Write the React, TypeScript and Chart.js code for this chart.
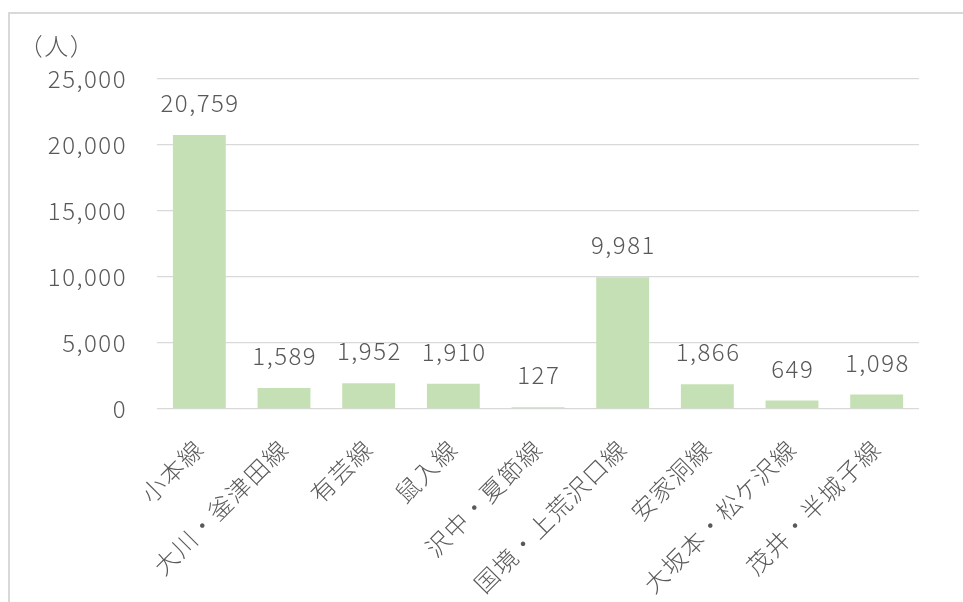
import React, { useEffect, useRef } from 'react';
import { Chart, registerables } from 'chart.js';

Chart.register(...registerables);

const categories = [
  '小本線',
  '大川・釜津田線',
  '有芸線',
  '鼠入線',
  '沢中・夏節線',
  '国境・上荒沢口線',
  '安家洞線',
  '大坂本・松ケ沢線',
  '茂井・半城子線',
];
const passengers = [20759, 1589, 1952, 1910, 127, 9981, 1866, 649, 1098];
const yMin = 0;
const yMax = 25000;
const yStep = 5000;
const yUnit = '（人）';

const FONT = '"Noto Sans CJK JP", "Noto Sans", sans-serif';
const WEIGHT = '300';
const SPACING = '1.5px';
const TEXT = '#595959';
const GRID = '#d9d9d9';
const BAR = '#c5e0b4';

const fmt = (v: number) => v.toLocaleString('en-US');

const framePlugin = {
  id: 'frame',
  beforeDraw(chart: any) {
    const ctx = chart.ctx;
    ctx.save();
    ctx.fillStyle = '#ffffff';
    ctx.fillRect(0, 0, chart.width, chart.height);
    ctx.fillStyle = GRID;
    ctx.fillRect(8, 12, chart.width - 8, 2);
    ctx.fillRect(8, 12, 2, chart.height - 12);
    ctx.restore();
    (ctx as any).letterSpacing = SPACING;
  },
};

const labelsPlugin = {
  id: 'customLabels',
  afterDatasetsDraw(chart: any) {
    const ctx = chart.ctx;
    const meta = chart.getDatasetMeta(0);
    const xScale = chart.scales.x;
    const yScale = chart.scales.y;
    ctx.save();
    (ctx as any).letterSpacing = SPACING;
    // data labels
    ctx.font = `${WEIGHT} 24px ${FONT}`;
    ctx.fillStyle = TEXT;
    ctx.textAlign = 'center';
    ctx.textBaseline = 'middle';
    meta.data.forEach((el: any, i: number) => {
      ctx.fillText(fmt(passengers[i]), el.x + 0.75, el.y - 32);
    });
    // unit label
    ctx.fillText(yUnit, 57, 46);
    // category labels, rotated
    const base = yScale.getPixelForValue(0);
    ctx.textAlign = 'right';
    ctx.textBaseline = 'middle';
    categories.forEach((c, i) => {
      const x = xScale.getPixelForValue(i);
      ctx.save();
      ctx.translate(x, base + 35);
      ctx.rotate(-Math.PI / 4);
      ctx.fillText(c, 0, 0);
      ctx.restore();
    });
    ctx.restore();
  },
};

export default function App() {
  const ref = useRef<HTMLCanvasElement | null>(null);
  useEffect(() => {
    if (!ref.current) return;
    const chart = new Chart(ref.current, {
      type: 'bar',
      data: {
        labels: categories,
        datasets: [
          {
            data: passengers,
            backgroundColor: BAR,
            borderWidth: 0,
            categoryPercentage: 1,
            barPercentage: 0.625,
          },
        ],
      },
      options: {
        responsive: false,
        animation: false,
        layout: { padding: { left: 0, right: 44, top: 79, bottom: 0 } },
        plugins: {
          legend: { display: false },
          tooltip: { enabled: false },
          title: { display: false },
        },
        scales: {
          x: {
            grid: { display: false, drawTicks: false },
            border: { display: false },
            ticks: { display: false },
            afterFit(scale: any) {
              scale.height = 193;
            },
          },
          y: {
            min: yMin,
            max: yMax,
            grid: { color: GRID, lineWidth: 1.3, drawTicks: false },
            border: { display: false },
            ticks: {
              stepSize: yStep,
              padding: 30,
              color: TEXT,
              font: { family: FONT, size: 24, weight: WEIGHT as any },
              callback: (v: any) => fmt(Number(v)),
            },
            afterFit(scale: any) {
              scale.width = 157;
            },
          },
        },
      },
      plugins: [framePlugin, labelsPlugin],
    });
    return () => chart.destroy();
  }, []);
  return (
    <div style={{ position: 'fixed', left: 0, top: 0, width: 963, height: 602, overflow: 'hidden', background: '#fff' }}>
      <canvas ref={ref} width={963} height={602} style={{ display: 'block' }} />
    </div>
  );
}
